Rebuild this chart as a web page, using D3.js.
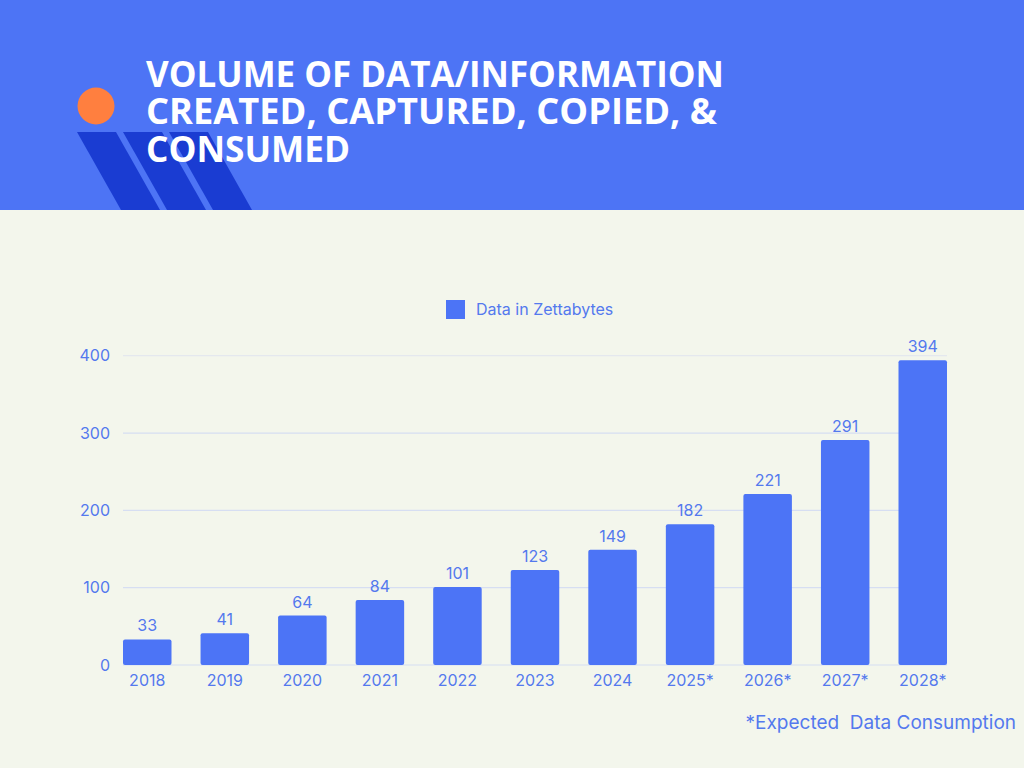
<!DOCTYPE html>
<html>
<head>
<meta charset="utf-8">
<script src="https://cdn.jsdelivr.net/npm/d3@7"></script>
<style>
  html, body { margin: 0; padding: 0; background: #F3F6EC; }
  svg { display: block; }
</style>
</head>
<body>
<script>
const categories = ["2018","2019","2020","2021","2022","2023","2024","2025*","2026*","2027*","2028*"];
const values = [33, 41, 64, 84, 101, 123, 149, 182, 221, 291, 394];
const yTicks = [0, 100, 200, 300, 400];
const titleLines = ["VOLUME OF DATA/INFORMATION", "CREATED, CAPTURED, COPIED, &", "CONSUMED"];
const seriesName = "Data in Zettabytes";
const footnote = "*Expected\u00A0 Data Consumption";

const W = 1024, H = 768;
const blue = "#4C74F6", textBlue = "#5479EE", dark = "#1A3CD2";

const svg = d3.select("body").append("svg").attr("width", W).attr("height", H);
svg.append("rect").attr("width", W).attr("height", H).attr("fill", "#F3F6EC");

// Header band
svg.append("rect").attr("x", 0).attr("y", 0).attr("width", W).attr("height", 210).attr("fill", "#4D74F5");

// Decorative stripes
const stripes = [[77, 116], [123, 162], [169, 208]];
const shift = 44;
svg.append("g").selectAll("path").data(stripes).join("path")
  .attr("d", d => `M${d[0]},132 L${d[1]},132 L${d[1] + shift},210 L${d[0] + shift},210 Z`)
  .attr("fill", dark);

// Orange circle
svg.append("circle").attr("cx", 96).attr("cy", 106).attr("r", 18.5).attr("fill", "#FF7F3F");

// Title (one text element, three lines)
const titleWidths = [578, 571, 204];
const title = svg.append("text")
  .attr("fill", "#FFFFFF")
  .attr("font-family", "'Open Sans', sans-serif")
  .attr("font-weight", 700)
  .attr("font-size", 36);
title.selectAll("tspan").data(titleLines).join("tspan")
  .attr("x", 146).attr("y", (d, i) => 87 + i * 37.3)
  .attr("textLength", (d, i) => titleWidths[i])
  .attr("lengthAdjust", "spacingAndGlyphs")
  .text(d => d);

// Scales
const x = d3.scaleBand().domain(categories).range([123, 947]).paddingInner(0.3746).paddingOuter(0);
const y = d3.scaleLinear().domain([0, 400]).range([665, 355.7]);

// Gridlines
svg.append("g").selectAll("line").data(yTicks).join("line")
  .attr("x1", 123).attr("x2", 947)
  .attr("y1", d => y(d)).attr("y2", d => y(d))
  .attr("stroke", d => d === 400 ? "#E4E8EE" : "#D6DEF2")
  .attr("stroke-width", 1.2);

// Y axis
const yAxis = svg.append("g").attr("transform", "translate(110,0)")
  .call(d3.axisLeft(y).tickValues(yTicks).tickSize(0).tickPadding(0));
yAxis.select(".domain").remove();
yAxis.selectAll("text").attr("fill", textBlue).attr("font-family", "Inter, sans-serif").attr("font-size", 16).attr("dy", "0.32em");

// Bars
svg.append("g").selectAll("rect").data(values).join("rect")
  .attr("x", (d, i) => x(categories[i]))
  .attr("width", x.bandwidth())
  .attr("y", d => y(d))
  .attr("height", d => y(0) - y(d))
  .attr("rx", 2)
  .attr("fill", blue);

// Value labels
svg.append("g").selectAll("text").data(values).join("text")
  .attr("x", (d, i) => x(categories[i]) + x.bandwidth() / 2)
  .attr("y", d => y(d) - 8)
  .attr("text-anchor", "middle")
  .attr("fill", textBlue)
  .attr("font-family", "Inter, sans-serif")
  .attr("font-size", 16)
  .text(d => d);

// X axis
const xAxis = svg.append("g").attr("transform", `translate(0,${y(0)})`)
  .call(d3.axisBottom(x).tickSize(0).tickPadding(10));
xAxis.select(".domain").remove();
xAxis.selectAll("text").attr("fill", textBlue).attr("font-family", "Inter, sans-serif").attr("font-size", 16);

// Legend
const legend = svg.append("g");
legend.append("rect").attr("x", 446).attr("y", 300).attr("width", 19).attr("height", 19).attr("fill", blue);
legend.append("text").attr("x", 476).attr("y", 315).attr("fill", textBlue)
  .attr("font-family", "Inter, sans-serif").attr("font-size", 16).text(seriesName);

// Footnote
svg.append("text").attr("x", 1016).attr("y", 729).attr("text-anchor", "end")
  .attr("fill", textBlue).attr("font-family", "Inter, sans-serif").attr("font-size", 19)
  .text(footnote);
</script>
</body>
</html>
